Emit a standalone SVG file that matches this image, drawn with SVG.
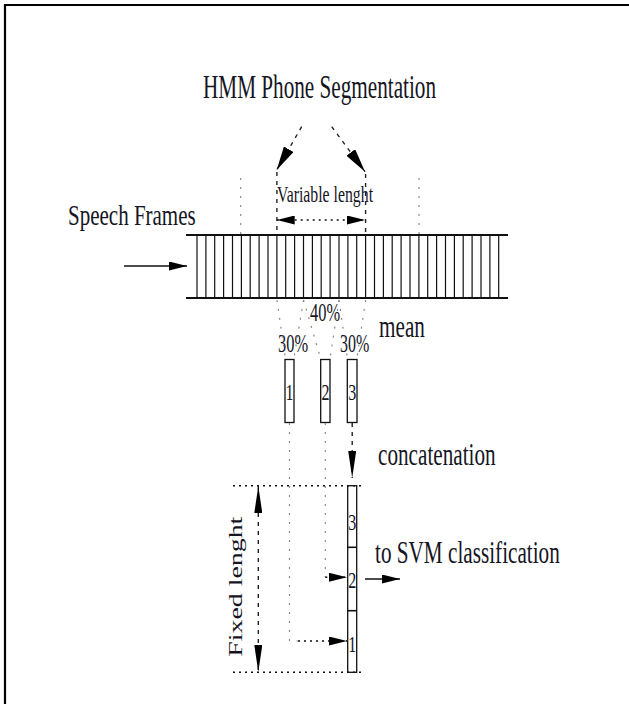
<svg xmlns="http://www.w3.org/2000/svg" width="629" height="704" viewBox="0 0 629 704">
<style>
text{font-family:"Liberation Serif","Times New Roman",serif;fill:#15151f}
.lbl{font-size:21.2px}
.num{font-size:16px;text-anchor:middle}
.frame{stroke:#111;stroke-width:1.2}
.band{stroke:#111;stroke-width:2}
.box{fill:#fff;stroke:#111;stroke-width:1.3}
.guide{stroke:#8a8a8a;stroke-width:1.2;stroke-dasharray:2 7;fill:none}
.dot{stroke:#111;stroke-width:1.6;stroke-dasharray:2 4;fill:none}
.dash{stroke:#222;stroke-width:1.4;stroke-dasharray:4 5;fill:none}
.solid{stroke:#111;stroke-width:1.6;fill:none}
</style>
<defs>
<marker id="ah" viewBox="0 0 18 9" refX="18" refY="4.5" markerWidth="18" markerHeight="9" markerUnits="userSpaceOnUse" orient="auto-start-reverse"><path d="M0,0 L18,4.5 L0,9 z" fill="#000"/></marker>
<marker id="ahb" viewBox="0 0 24 11" refX="24" refY="5.5" markerWidth="24" markerHeight="11" markerUnits="userSpaceOnUse" orient="auto-start-reverse"><path d="M0,0 L24,5.5 L0,11 z" fill="#000"/></marker>
<marker id="ahl" viewBox="0 0 27 8" refX="27" refY="4" markerWidth="27" markerHeight="8" markerUnits="userSpaceOnUse" orient="auto-start-reverse"><path d="M0,0 L27,4 L0,8 z" fill="#000"/></marker>
</defs>
<rect width="629" height="704" fill="#fff"/>
<path d="M5,704 L5,5 L629,5" fill="none" stroke="#000" stroke-width="2.2"/>

<g id="title"><text transform="translate(203,98) scale(1,1.6)" font-size="21.2">HMM Phone Segmentation</text></g>
<g id="speech-frames-label"><text transform="translate(68,225) scale(1,1.43)" font-size="21">Speech Frames</text></g>
<g id="variable-label"><text transform="translate(277,201.5) scale(1,1.46)" font-size="15.8">Variable lenght</text></g>

<g id="frames">
<line class="band" x1="186" y1="235" x2="508" y2="235"/>
<line class="band" x1="186" y1="298" x2="508" y2="298"/>
<g id="frame-lines">
<line class="frame" x1="197.0" y1="235" x2="197.0" y2="298"/><line class="frame" x1="205.9" y1="235" x2="205.9" y2="298"/><line class="frame" x1="214.7" y1="235" x2="214.7" y2="298"/><line class="frame" x1="223.6" y1="235" x2="223.6" y2="298"/><line class="frame" x1="232.5" y1="235" x2="232.5" y2="298"/><line class="frame" x1="241.4" y1="235" x2="241.4" y2="298"/><line class="frame" x1="250.2" y1="235" x2="250.2" y2="298"/><line class="frame" x1="259.1" y1="235" x2="259.1" y2="298"/><line class="frame" x1="268.0" y1="235" x2="268.0" y2="298"/><line class="frame" x1="276.9" y1="235" x2="276.9" y2="298"/><line class="frame" x1="285.7" y1="235" x2="285.7" y2="298"/><line class="frame" x1="294.6" y1="235" x2="294.6" y2="298"/><line class="frame" x1="303.5" y1="235" x2="303.5" y2="298"/><line class="frame" x1="312.4" y1="235" x2="312.4" y2="298"/><line class="frame" x1="321.2" y1="235" x2="321.2" y2="298"/><line class="frame" x1="330.1" y1="235" x2="330.1" y2="298"/><line class="frame" x1="339.0" y1="235" x2="339.0" y2="298"/><line class="frame" x1="347.9" y1="235" x2="347.9" y2="298"/><line class="frame" x1="356.7" y1="235" x2="356.7" y2="298"/><line class="frame" x1="365.6" y1="235" x2="365.6" y2="298"/><line class="frame" x1="374.5" y1="235" x2="374.5" y2="298"/><line class="frame" x1="383.4" y1="235" x2="383.4" y2="298"/><line class="frame" x1="392.2" y1="235" x2="392.2" y2="298"/><line class="frame" x1="401.1" y1="235" x2="401.1" y2="298"/><line class="frame" x1="410.0" y1="235" x2="410.0" y2="298"/><line class="frame" x1="418.9" y1="235" x2="418.9" y2="298"/><line class="frame" x1="427.7" y1="235" x2="427.7" y2="298"/><line class="frame" x1="436.6" y1="235" x2="436.6" y2="298"/><line class="frame" x1="445.5" y1="235" x2="445.5" y2="298"/><line class="frame" x1="454.4" y1="235" x2="454.4" y2="298"/><line class="frame" x1="463.2" y1="235" x2="463.2" y2="298"/><line class="frame" x1="472.1" y1="235" x2="472.1" y2="298"/><line class="frame" x1="481.0" y1="235" x2="481.0" y2="298"/><line class="frame" x1="489.9" y1="235" x2="489.9" y2="298"/><line class="frame" x1="498.7" y1="235" x2="498.7" y2="298"/>
</g>
</g>

<g id="pct-labels">
<text transform="translate(310,321) scale(1,1.5)" font-size="16.4">40%</text>
<text transform="translate(278,351.5) scale(1,1.55)" font-size="16.4">30%</text>
<text transform="translate(340,351.5) scale(1,1.55)" font-size="16">30%</text>
</g>
<g id="mean-label"><text transform="translate(379,337) scale(1,1.46)" class="lbl">mean</text></g>
<g id="concat-label"><text transform="translate(378,465) scale(1,1.46)" class="lbl">concatenation</text></g>
<g id="svm-label"><text transform="translate(375,563) scale(1,1.46)" class="lbl">to SVM classification</text></g>

<g id="mean-box-1"><rect class="box" x="285" y="359.5" width="9" height="63"/><text class="num" transform="translate(289.5,400) scale(1,1.5)">1</text></g>
<g id="mean-box-2"><rect class="box" x="320.7" y="359.5" width="9.3" height="63"/><text class="num" transform="translate(325.5,400) scale(1,1.5)">2</text></g>
<g id="mean-box-3"><rect class="box" x="347.3" y="359.5" width="9.7" height="63"/><text class="num" transform="translate(352.2,400) scale(1,1.5)">3</text></g>

<g id="vector">
<rect class="box" x="347.7" y="485.7" width="9" height="186.6"/>
<line class="solid" x1="347.7" y1="547.3" x2="356.7" y2="547.3" stroke-width="1.2"/>
<line class="solid" x1="347.7" y1="610.7" x2="356.7" y2="610.7" stroke-width="1.2"/>
<text class="num" transform="translate(352.2,529.5) scale(1,1.45)">3</text>
<text class="num" transform="translate(352.2,588) scale(1,1.45)">2</text>
<text class="num" transform="translate(352.2,651.5) scale(1,1.45)">1</text>
</g>

<g id="fixed-label"><text transform="translate(242,586.7) rotate(-90) scale(1.43,1)" font-size="19.5" text-anchor="middle" fill="#333">Fixed lenght</text></g>

<g id="connectors">
<line class="guide" x1="240.7" y1="178" x2="240.7" y2="235"/>
<line class="guide" x1="419" y1="178" x2="419" y2="235"/>
<line class="dash" x1="276.9" y1="172" x2="276.9" y2="235" stroke-dasharray="2 5"/>
<line class="dash" x1="365.6" y1="174" x2="365.6" y2="235" stroke-dasharray="2 5"/>
<line class="dash" x1="301.7" y1="126.7" x2="276.7" y2="170" marker-end="url(#ahb)"/>
<line class="dash" x1="331.7" y1="126.7" x2="365" y2="171.7" marker-end="url(#ahb)"/>
<line class="dot" x1="276.7" y1="220" x2="365" y2="220" marker-start="url(#ah)" marker-end="url(#ah)"/>
<line class="solid" x1="124" y1="266" x2="187" y2="266" marker-end="url(#ah)"/>
<line class="guide" x1="277" y1="300" x2="285.5" y2="359"/>
<line class="guide" x1="303.5" y1="300" x2="293.8" y2="359"/>
<line class="guide" x1="303.5" y1="300" x2="320.8" y2="359"/>
<line class="guide" x1="339" y1="300" x2="330" y2="359"/>
<line class="guide" x1="339" y1="300" x2="347.5" y2="359"/>
<line class="guide" x1="365.6" y1="300" x2="356.8" y2="359"/>
<polyline class="guide" points="289.5,423 289.5,641 298,641"/>
<line class="dot" x1="298" y1="641" x2="347" y2="641" marker-end="url(#ah)" stroke="#555"/>
<polyline class="guide" points="325.3,423 325.3,577.3"/>
<line class="dot" x1="325.3" y1="577.3" x2="347" y2="577.3" marker-end="url(#ah)" stroke="#555"/>
<line class="dash" x1="352.2" y1="423" x2="352.2" y2="478" marker-end="url(#ahl)"/>
<line class="dot" x1="233" y1="485.7" x2="364" y2="485.7"/>
<line class="dot" x1="233" y1="672.3" x2="364" y2="672.3"/>
<line class="dash" x1="258.3" y1="486" x2="258.3" y2="672" marker-start="url(#ahl)" marker-end="url(#ahl)"/>
<line class="solid" x1="365" y1="579" x2="400" y2="579" marker-end="url(#ah)"/>
</g>
</svg>
